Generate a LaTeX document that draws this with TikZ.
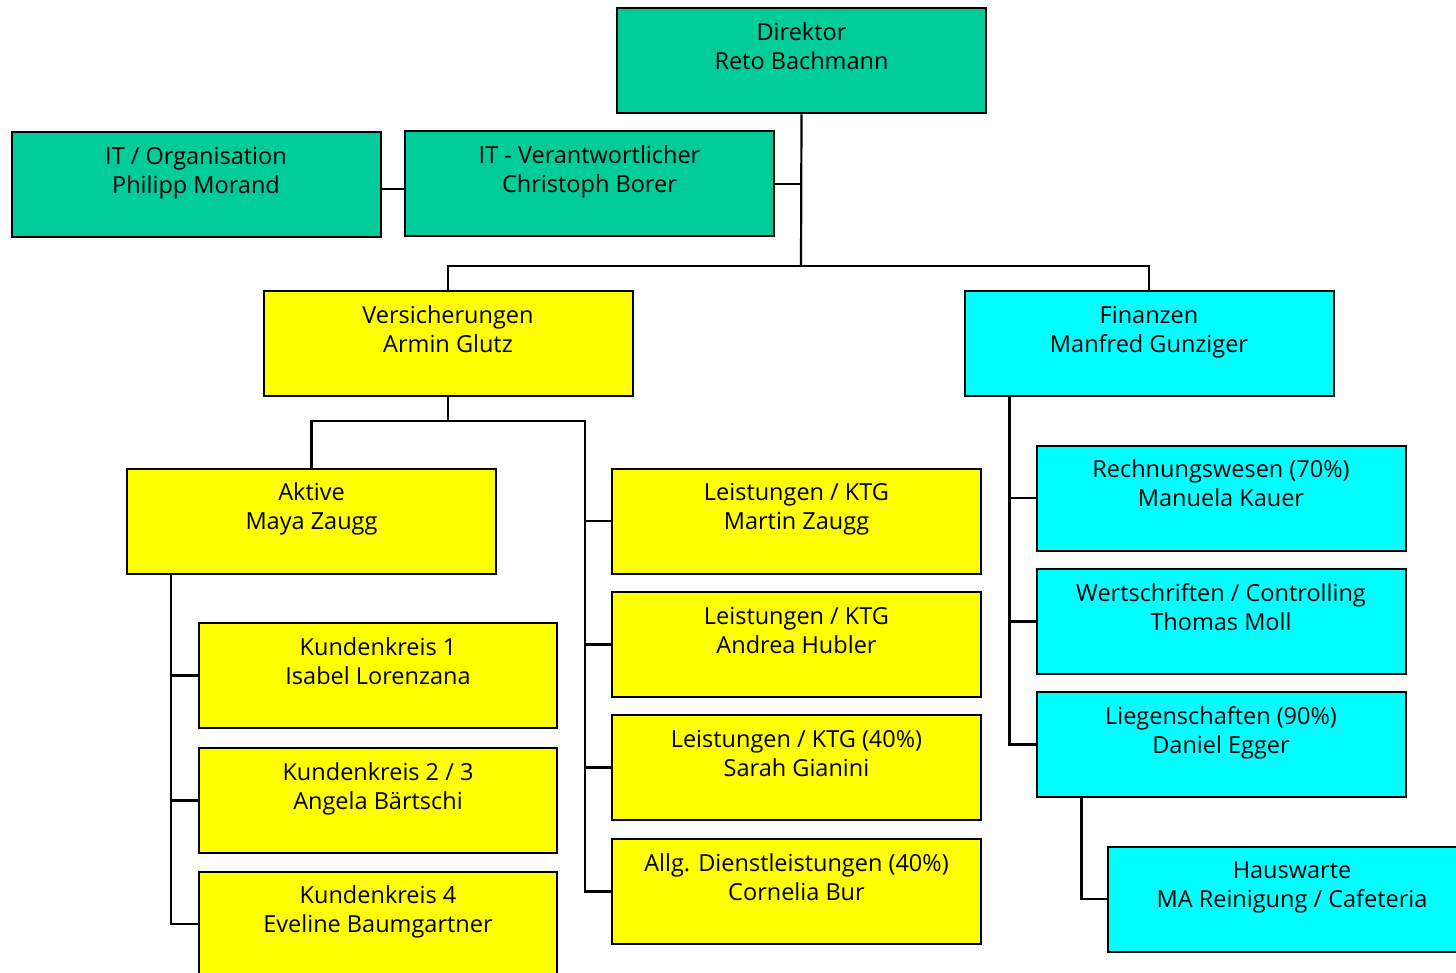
\documentclass[tikz,border=0pt]{standalone}
\usepackage{fontspec}
\setmainfont{Open Sans}
\usepackage{tikz}
\definecolor{boardgreen}{RGB}{0,204,153}
\definecolor{insyellow}{RGB}{255,255,0}
\definecolor{fincyan}{RGB}{0,255,255}
\newcommand{\unitfont}{\fontsize{23.5}{29}\selectfont}
\newcommand{\unittext}[2]{#1\\#2\\\mbox{}}
\tikzset{
  unit/.style = {draw=black, line width=2pt, minimum width=369pt,
                 minimum height=105pt, inner sep=0pt, align=center,
                 font=\unitfont},
  board/.style = {unit, fill=boardgreen},
  insur/.style = {unit, fill=insyellow},
  fina/.style  = {unit, fill=fincyan},
  link/.style  = {line width=2.2pt}
}

\begin{document}
\begin{tikzpicture}[x=1pt, y=-1pt]
        \clip (0,0) rectangle (1456,973);
        \fill[white] (0,0) rectangle (1456,973);
        % top level
        \node[board] (dir)   at (801.5, 61)  {\unittext{Direktor}{Reto Bachmann}};
        \node[board] (itorg) at (196, 185)   {\unittext{IT / Organisation}{Philipp Morand}};
        \node[board] (itv)   at (589.5, 184) {\unittext{IT - Verantwortlicher}{Christoph Borer}};
        % departments
        \node[insur] (vers) at (448, 343.5)  {\unittext{Versicherungen}{Armin Glutz}};
        \node[fina]  (fin)  at (1149, 343.5) {\unittext{Finanzen}{Manfred Gunziger}};
        % Versicherungen
        \node[insur] (akt)  at (311.5, 521)   {\unittext{Aktive}{Maya Zaugg}};
        \node[insur] (lst1) at (796.5, 521)   {\unittext{Leistungen / KTG}{Martin Zaugg}};
        \node[insur] (lst2) at (796.5, 644.5) {\unittext{Leistungen / KTG}{Andrea Hubler}};
        \node[insur] (lst3) at (796.5, 767.5) {\unittext{Leistungen / KTG (40\%)}{Sarah Gianini}};
        \node[insur] (allg) at (796.5, 891.5) {\unittext{Allg. Dienstleistungen (40\%)}{Cornelia Bur}};
        \node[insur, minimum width=358pt] (kk1) at (378, 675.5) {\unittext{Kundenkreis 1}{Isabel Lorenzana}};
        \node[insur, minimum width=358pt] (kk2) at (378, 800.5) {\unittext{Kundenkreis 2 / 3}{Angela Bärtschi}};
        \node[insur, minimum width=358pt] (kk4) at (378, 924)   {\unittext{Kundenkreis 4}{Eveline Baumgartner}};
        % Finanzen
        \node[fina] (rw)   at (1221, 498)   {\unittext{Rechnungswesen (70\%)}{Manuela Kauer}};
        \node[fina] (ws)   at (1221, 621.5) {\unittext{Wertschriften / Controlling}{Thomas Moll}};
        \node[fina] (lieg) at (1221, 744.5) {\unittext{Liegenschaften (90\%)}{Daniel Egger}};
        \node[fina] (haus) at (1292, 899)   {\unittext{Hauswarte}{MA Reinigung / Cafeteria}};
        % connectors
        \coordinate (top)  at (801, 266);
        \coordinate (vbar) at (585, 421);
        \draw[link] (dir.south) -- (top);
        \draw[link] (itv.east) -- (dir.south |- itv.east);
        \draw[link] (itorg.east |- 0,189) -- (itv.west |- 0,189);
        \draw[link] (vers.north) |- (top) -| (fin.north);
        \draw[link] (vers.south) -- (vers.south |- vbar);
        \draw[link] (akt.north) |- (vbar) |- (allg.west);
        \draw[link] (vbar |- lst1.west) -- (lst1.west);
        \draw[link] (vbar |- lst2.west) -- (lst2.west);
        \draw[link] (vbar |- lst3.west) -- (lst3.west);
        \draw[link] ([xshift=45pt]akt.south west) |- (kk4.west);
        \draw[link] ([xshift=45pt]akt.south west |- kk1.west) -- (kk1.west);
        \draw[link] ([xshift=45pt]akt.south west |- kk2.west) -- (kk2.west);
        \draw[link] ([xshift=46pt]fin.south west) |- (lieg.west);
        \draw[link] ([xshift=46pt]fin.south west |- rw.west) -- (rw.west);
        \draw[link] ([xshift=46pt]fin.south west |- ws.west) -- (ws.west);
        \draw[link] ([xshift=46pt]lieg.south west) |- (haus.west);
\end{tikzpicture}
\end{document}
